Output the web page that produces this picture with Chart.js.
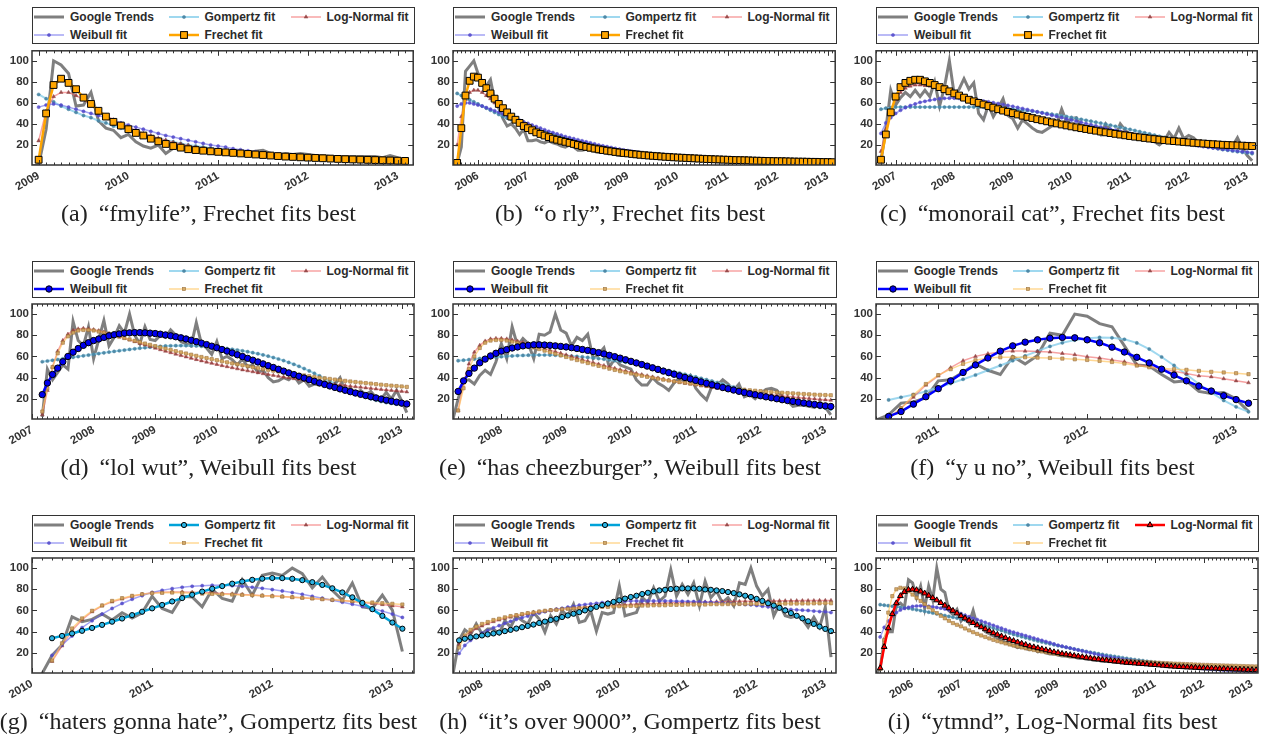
<!DOCTYPE html>
<html>
<head>
<meta charset="utf-8">
<script src="https://cdn.jsdelivr.net/npm/chart.js@4.4.1/dist/chart.umd.min.js"></script>
<style>
html, body { margin: 0; padding: 0; background: #fff; }
#page { position: relative; width: 1262px; height: 736px; overflow: hidden; }
#page canvas { position: absolute; }
.legend { position: absolute; border: 1.5px solid #333; box-sizing: border-box; background: #fff;
  font: bold 12px "Liberation Sans", Arial, sans-serif; color: #2b2b2b; }
.legend .item { position: absolute; height: 14px; display: flex; align-items: center; white-space: nowrap; }
.legend svg { display: block; margin-right: 6px; }
.caption { position: absolute; font-family: "Liberation Serif", "Times New Roman", serif; font-size: 24px;
  line-height: 28px; color: #222; white-space: nowrap; transform: translateX(-50%); }
.caption span + span { margin-left: 5px; }
</style>
</head>
<body>
<div id="page"></div>
<script>
// y axis ticks shared by all panels
const yTicks = [20, 40, 60, 80, 100];

// (a) fmylife
const aYears = [2009, 2010, 2011, 2012, 2013];
const aTrends = [0, 1, 35, 100, 96, 88, 57, 58, 70, 43, 36, 34, 27, 30, 23, 19, 17, 20, 12, 17, 19, 18, 16, 17, 15, 14, 13, 14, 14, 13, 14, 15, 12, 10, 12, 11, 12, 11, 10, 10, 9, 9, 9, 9, 9, 9, 9, 8, 10, 8, 5];
const aGompertz = [68, 64, 61, 57, 54, 51, 48, 46, 43, 41, 38, 36, 34, 32, 30, 28, 26, 24.5, 23, 21.5, 20, 19, 18, 17, 16, 15, 14, 13, 12, 11, 10.5, 10, 9, 8.5, 8, 7.5, 7, 6.5, 6, 5.7, 5.3, 5, 4.7, 4.4, 4.1, 3.9, 3.7, 3.5, 3.3, 3.1];
const aLogNormal = [24, 52, 66, 70, 70, 67, 63, 58, 53, 48, 44, 40, 37, 34, 31, 29, 26.5, 24.5, 22.5, 21, 19.5, 18, 17, 16, 15, 14, 13, 12.3, 11.6, 11, 10.3, 9.8, 9.3, 8.8, 8.3, 7.9, 7.5, 7.1, 6.8, 6.4, 6.1, 5.8, 5.5, 5.3, 5, 4.8, 4.6, 4.4, 4.2, 4];
const aWeibull = [56, 58, 59, 58, 56, 54, 52, 50, 48, 46, 43, 41, 39, 37, 35, 33, 31, 29, 27.5, 26, 24.5, 23, 21.5, 20, 19, 18, 16.5, 15.5, 14.5, 13.5, 12.5, 11.7, 10.8, 10, 9.3, 8.6, 8, 7.4, 6.8, 6.3, 5.8, 5.3, 4.9, 4.5, 4.1, 3.8, 3.5, 3.2, 2.9, 2.7];
const aFrechet = [6, 50, 77, 83, 79, 73, 65, 59, 52.5, 47, 42, 38.5, 35, 31.5, 29, 26, 23.5, 21, 19, 17.5, 16, 15.2, 14.6, 14, 13.5, 13, 12.5, 12, 11.5, 11, 10.5, 10, 9.5, 9, 8.7, 8.3, 8, 7.7, 7.4, 7.1, 6.8, 6.5, 6.3, 6.1, 5.9, 5.7, 5.5, 5.3, 5.1, 4.9];

// (b) o rly
const bYears = [2006, 2007, 2008, 2009, 2010, 2011, 2012, 2013];
const bTrends = [0, 3, 18, 90, 95, 100, 88, 80, 76, 82, 62, 55, 45, 38, 40, 36, 30, 35, 24, 24, 25, 23, 22, 24, 22, 21, 19, 18, 20, 18, 15, 15, 16, 15, 14, 13, 13, 12, 12, 11, 10, 11, 12, 10, 9, 10, 9, 9, 9, 10, 8, 10, 9, 8, 9, 8, 8, 9, 8, 7, 8, 7, 6, 7, 6, 7, 6, 6, 5, 6, 5, 5, 6, 5, 5, 5, 5, 4, 5, 6, 5, 4, 4, 4, 4, 4, 4, 4, 3, 4, 3, 3];
const bGompertz = [69, 67, 65, 63, 61, 59, 57, 55, 53, 51, 49, 47, 45.5, 44, 42.5, 41, 39.5, 38, 36.5, 35, 33.5, 32.5, 31, 30, 29, 27.5, 26.5, 25.5, 24.5, 23.5, 22.5, 21.5, 20.5, 19.5, 18.8, 18, 17, 16.3, 15.5, 15, 14.2, 13.5, 13, 12.3, 11.8, 11.2, 10.7, 10.2, 9.7, 9.3, 8.8, 8.4, 8, 7.6, 7.2, 6.9, 6.6, 6.3, 6, 5.7, 5.4, 5.2, 4.9, 4.7, 4.5, 4.3, 4.1, 3.9, 3.7, 3.5, 3.4, 3.2, 3.1, 2.9, 2.8, 2.7, 2.6, 2.5, 2.4, 2.3, 2.2, 2.1, 2, 1.9, 1.8, 1.8, 1.7, 1.6, 1.6, 1.5, 1.5];
const bLogNormal = [20, 47, 63, 70, 72, 72, 70, 67, 64, 60, 57, 53, 50, 47, 44, 41.5, 39, 37, 35, 33, 31, 29.5, 28, 26.5, 25, 24, 23, 22, 21, 20, 19, 18.2, 17.4, 16.6, 15.9, 15.2, 14.5, 13.9, 13.3, 12.7, 12.2, 11.7, 11.2, 10.7, 10.3, 9.9, 9.5, 9.1, 8.8, 8.4, 8.1, 7.8, 7.5, 7.2, 7, 6.7, 6.5, 6.3, 6.1, 5.9, 5.7, 5.5, 5.3, 5.1, 5, 4.8, 4.7, 4.5, 4.4, 4.2, 4.1, 4, 3.9, 3.8, 3.7, 3.6, 3.5, 3.4, 3.3, 3.2, 3.1, 3, 3, 2.9, 2.8, 2.8, 2.7, 2.6, 2.6, 2.5, 2.5];
const bWeibull = [57, 59, 60, 60, 59, 58, 57, 55.5, 54, 52.5, 51, 49.5, 48, 46.5, 45, 43.5, 42, 40.5, 39, 37.5, 36, 34.5, 33, 31.8, 30.5, 29.3, 28, 27, 26, 25, 24, 23, 22, 21, 20, 19.2, 18.4, 17.6, 16.8, 16, 15.3, 14.6, 14, 13.3, 12.7, 12.1, 11.5, 11, 10.5, 10, 9.5, 9, 8.6, 8.2, 7.8, 7.4, 7, 6.7, 6.3, 6, 5.7, 5.4, 5.1, 4.9, 4.6, 4.4, 4.2, 4, 3.8, 3.6, 3.4, 3.2, 3.1, 2.9, 2.8, 2.6, 2.5, 2.4, 2.3, 2.2, 2.1, 2, 1.9, 1.8, 1.7, 1.6, 1.6, 1.5, 1.4, 1.4, 1.3];
const bFrechet = [3, 36, 67, 81, 85, 84, 79, 74, 69, 64, 59, 55, 51, 47, 44, 41, 38, 36, 34, 32, 30.5, 29, 27.5, 26, 25, 24, 23, 22, 21, 20, 19, 18.2, 17.4, 16.6, 15.9, 15.2, 14.6, 14, 13.4, 12.9, 12.4, 12, 11.5, 11.1, 10.7, 10.3, 10, 9.7, 9.4, 9.1, 8.8, 8.6, 8.3, 8.1, 7.9, 7.7, 7.5, 7.3, 7.1, 6.9, 6.7, 6.6, 6.4, 6.3, 6.1, 6, 5.8, 5.7, 5.6, 5.5, 5.4, 5.2, 5.1, 5, 4.9, 4.8, 4.7, 4.6, 4.6, 4.5, 4.4, 4.3, 4.2, 4.2, 4.1, 4, 4, 3.9, 3.8, 3.8, 3.7];

// (c) monorail cat
const cYears = [2007, 2008, 2009, 2010, 2011, 2012, 2013];
const cTrends = [5, 35, 72, 58, 65, 70, 66, 72, 66, 72, 66, 80, 57, 75, 100, 68, 73, 83, 73, 79, 50, 44, 58, 47, 55, 64, 48, 45, 36, 44, 40, 36, 33, 32, 35, 38, 40, 54, 42, 45, 46, 38, 36, 33, 35, 30, 40, 34, 30, 40, 34, 30, 30, 29, 27, 25, 23, 20, 24, 32, 26, 36, 26, 29, 27, 22, 20, 19, 18, 17, 16, 17, 19, 27, 17, 10, 5];
const cGompertz = [54, 55, 55.5, 56, 56, 56, 56, 56, 56, 56, 56, 56, 56, 56, 56, 56, 56, 56, 56, 56, 56, 56, 55.8, 55.6, 55.3, 55, 54.6, 54.2, 53.7, 53.2, 52.6, 52, 51.4, 50.7, 50, 49.3, 48.6, 47.8, 47, 46.2, 45.3, 44.4, 43.5, 42.6, 41.7, 40.8, 39.8, 38.8, 37.8, 36.8, 35.8, 34.8, 33.8, 32.7, 31.6, 30.5, 29.4, 28.3, 27.2, 26.1, 25, 24, 23, 22, 21, 20, 19.1, 18.2, 17.3, 16.5, 15.7, 15, 14.3, 13.6, 13, 12.4, 11.8];
const cLogNormal = [14, 35, 52, 63, 70, 74, 76, 77, 77, 76.5, 76, 75, 73.5, 72, 70.5, 69, 67.3, 65.6, 63.9, 62.3, 60.7, 59.1, 57.6, 56.1, 54.6, 53.2, 51.9, 50.6, 49.3, 48.1, 46.9, 45.8, 44.7, 43.6, 42.6, 41.6, 40.6, 39.6, 38.7, 37.8, 36.9, 36, 35.2, 34.4, 33.6, 32.8, 32, 31.3, 30.6, 29.9, 29.2, 28.5, 27.9, 27.3, 26.7, 26.1, 25.5, 25, 24.5, 24, 23.5, 23, 22.5, 22.1, 21.7, 21.3, 20.9, 20.5, 20.1, 19.7, 19.3, 19, 18.7, 18.4, 18.1, 17.8, 17.5];
const cWeibull = [31, 41, 46, 50, 53, 55.5, 57.5, 59, 60.5, 61.5, 62.5, 63.3, 64, 64.3, 64.5, 64.5, 64.3, 64, 63.6, 63, 62.4, 61.7, 61, 60.2, 59.4, 58.5, 57.6, 56.7, 55.7, 54.7, 53.7, 52.6, 51.5, 50.4, 49.3, 48.2, 47.1, 46, 44.8, 43.7, 42.6, 41.5, 40.4, 39.3, 38.2, 37.1, 36, 35, 34, 33, 32, 31, 30, 29, 28, 27.1, 26.2, 25.3, 24.5, 23.7, 22.9, 22.1, 21.3, 20.6, 19.9, 19.2, 18.5, 17.8, 17.2, 16.6, 16, 15.4, 14.8, 14.3, 13.8, 13.3, 12.8];
const cFrechet = [6, 30, 51, 66, 75, 79, 81, 82, 82, 80.5, 79, 77, 75, 73, 71, 69, 67, 65, 63, 61.5, 60, 58.5, 57, 55.5, 54, 52.7, 51.5, 50.3, 49, 47.8, 46.7, 45.6, 44.5, 43.5, 42.5, 41.5, 40.5, 39.5, 38.6, 37.7, 36.8, 36, 35.2, 34.4, 33.6, 32.8, 32, 31.3, 30.6, 29.9, 29.2, 28.5, 27.9, 27.3, 26.7, 26.1, 25.6, 25.1, 24.6, 24.1, 23.7, 23.3, 22.9, 22.5, 22.1, 21.7, 21.4, 21.1, 20.8, 20.5, 20.2, 20, 19.8, 19.6, 19.4, 19.2, 19];

// (d) lol wut
const dYears = [2007, 2008, 2009, 2010, 2011, 2012, 2013];
const dTrends = [3, 48, 38, 45, 52, 48, 93, 75, 70, 88, 58, 76, 94, 70, 78, 89, 82, 100, 80, 72, 88, 76, 75, 80, 78, 85, 80, 74, 72, 70, 92, 72, 68, 62, 74, 58, 60, 57, 52, 58, 50, 52, 45, 47, 40, 36, 37, 40, 38, 42, 35, 38, 32, 34, 33, 37, 33, 34, 40, 27, 30, 25, 28, 24, 27, 21, 20, 26, 20, 28, 18, 7];
const dGompertz = [55, 55.7, 56.4, 57.1, 57.8, 58.5, 59.2, 59.9, 60.6, 61.3, 62, 62.7, 63.4, 64.1, 64.8, 65.4, 66, 66.6, 67.2, 67.8, 68.3, 68.8, 69.2, 69.6, 69.9, 70.1, 70.2, 70.3, 70.2, 70.1, 69.9, 69.6, 69.3, 68.9, 68.5, 68, 67.4, 66.8, 66.1, 65.3, 64.5, 63.6, 62.6, 61.5, 60.3, 59, 57.6, 56.1, 54.4, 52.6, 50.7, 48.6, 46.4, 44.1, 41.7, 39.3, 36.8, 34.4, 32, 29.7, 27.5, 25.4, 23.5, 21.7, 20.1, 18.7, 17.5, 16.5, 15.7, 15, 14.4, 13.9];
const dLogNormal = [5, 28, 50, 65, 75, 81, 84.5, 86, 86.5, 86, 85.3, 84.3, 83, 81.7, 80.2, 78.7, 77.2, 75.6, 74, 72.4, 70.9, 69.4, 67.9, 66.4, 65, 63.6, 62.2, 60.9, 59.6, 58.3, 57.1, 55.9, 54.7, 53.6, 52.5, 51.4, 50.4, 49.4, 48.4, 47.4, 46.5, 45.6, 44.7, 43.8, 43, 42.2, 41.4, 40.6, 39.8, 39.1, 38.4, 37.7, 37, 36.3, 35.7, 35, 34.4, 33.8, 33.2, 32.6, 32, 31.5, 31, 30.4, 29.9, 29.4, 28.9, 28.4, 28, 27.5, 27.1, 26.6];
const dWeibull = [24, 35, 43, 49, 55, 60, 64, 67.5, 70.5, 73, 75, 76.5, 78, 79.5, 80.5, 81.3, 82, 82.3, 82.5, 82.5, 82.3, 82, 81.6, 81, 80.3, 79.5, 78.6, 77.6, 76.5, 75.3, 74, 72.6, 71.2, 69.7, 68.2, 66.6, 65, 63.3, 61.6, 59.9, 58.2, 56.5, 54.8, 53, 51.3, 49.6, 47.9, 46.2, 44.5, 42.9, 41.3, 39.7, 38.1, 36.6, 35.1, 33.6, 32.2, 30.8, 29.4, 28.1, 26.8, 25.5, 24.3, 23.1, 22, 20.9, 19.8, 18.8, 17.8, 16.9, 16, 15.2];
const dFrechet = [8, 30, 50, 63, 73, 79, 82.5, 84.5, 85, 85, 84.5, 83.5, 82.5, 81.2, 80, 78.7, 77.4, 76.1, 74.8, 73.5, 72.2, 71, 69.8, 68.6, 67.4, 66.2, 65, 63.9, 62.8, 61.7, 60.6, 59.5, 58.5, 57.5, 56.5, 55.5, 54.5, 53.5, 52.6, 51.7, 50.8, 49.9, 49, 48.2, 47.4, 46.6, 45.8, 45, 44.2, 43.5, 42.8, 42.1, 41.4, 40.7, 40, 39.4, 38.8, 38.2, 37.6, 37, 36.4, 35.9, 35.4, 34.9, 34.4, 33.9, 33.4, 32.9, 32.5, 32.1, 31.7, 31.3];

// (e) has cheezburger
const eYears = [2008, 2009, 2010, 2011, 2012, 2013];
const eTrends = [0, 20, 37, 38, 34, 42, 47, 43, 55, 72, 58, 88, 70, 77, 72, 58, 81, 80, 83, 100, 85, 82, 70, 78, 75, 81, 58, 62, 68, 50, 58, 52, 50, 48, 38, 33, 33, 40, 35, 32, 28, 35, 40, 36, 42, 30, 24, 19, 32, 33, 38, 34, 28, 34, 22, 24, 20, 25, 29, 30, 28, 22, 18, 13, 14, 14, 13, 12, 17, 12, 5];
const eGompertz = [56, 56.5, 57, 57.5, 58, 58.5, 59, 59.4, 59.8, 60.2, 60.5, 60.8, 61, 61.2, 61.3, 61.4, 61.4, 61.3, 61.2, 61, 60.7, 60.4, 60, 59.6, 59.1, 58.6, 58, 57.4, 56.7, 56, 55.3, 54.5, 53.7, 52.8, 51.9, 50.9, 49.9, 48.9, 47.8, 46.7, 45.6, 44.4, 43.2, 42, 40.7, 39.4, 38.1, 36.8, 35.4, 34, 32.6, 31.2, 29.8, 28.4, 27, 25.6, 24.3, 23, 21.7, 20.4, 19.2, 18, 16.9, 15.8, 14.8, 13.8, 12.9, 12, 11.2, 10.4];
const eLogNormal = [9, 35, 53, 64, 70.5, 74.5, 76.5, 77, 77, 76.5, 75.5, 74.5, 73.2, 71.8, 70.4, 69, 67.5, 66, 64.5, 63, 61.5, 60, 58.5, 57, 55.6, 54.2, 52.8, 51.4, 50.1, 48.8, 47.5, 46.3, 45.1, 43.9, 42.8, 41.7, 40.6, 39.6, 38.6, 37.6, 36.7, 35.8, 34.9, 34, 33.2, 32.4, 31.6, 30.8, 30.1, 29.4, 28.7, 28, 27.3, 26.7, 26.1, 25.5, 24.9, 24.3, 23.8, 23.2, 22.7, 22.2, 21.7, 21.2, 20.8, 20.3, 19.9, 19.5, 19.1, 18.7];
const eWeibull = [27, 37, 44, 49, 54, 57.5, 60.5, 63, 65, 66.5, 68, 69, 70, 70.5, 71, 71, 70.8, 70.5, 70, 69.5, 69, 68.3, 67.5, 66.6, 65.7, 64.7, 63.6, 62.4, 61.1, 59.8, 58.4, 56.9, 55.4, 53.9, 52.4, 50.9, 49.3, 47.8, 46.2, 44.7, 43.2, 41.7, 40.2, 38.8, 37.4, 36, 34.6, 33.3, 32, 30.7, 29.5, 28.3, 27.1, 26, 24.9, 23.9, 22.9, 21.9, 21, 20.1, 19.2, 18.4, 17.6, 16.8, 16.1, 15.4, 14.7, 14, 13.4, 12.8];
const eFrechet = [9, 30, 48, 60, 68, 73, 75, 75.5, 75.5, 75, 74, 72.8, 71.5, 70, 68.5, 67, 65.5, 64, 62.5, 61, 59.5, 58, 56.6, 55.2, 53.8, 52.4, 51.1, 49.8, 48.5, 47.3, 46.1, 45, 43.9, 42.8, 41.8, 40.8, 39.9, 39, 38.1, 37.3, 36.5, 35.8, 35.1, 34.4, 33.7, 33, 32.4, 31.8, 31.2, 30.6, 30.1, 29.6, 29.1, 28.6, 28.1, 27.7, 27.3, 26.9, 26.5, 26.1, 25.8, 25.5, 25.2, 24.9, 24.6, 24.3, 24, 23.8, 23.6, 23.4];

// (f) y u no
const fYears = [2011, 2012, 2013];
const fTrends = [0, 5, 16, 17, 21, 37, 38, 45, 53, 47, 43, 60, 53, 61, 82, 80, 100, 98, 91, 88, 70, 52, 51, 43, 36, 37, 27, 25, 26, 20, 8];
const fGompertz = [19, 21.5, 24, 27, 31, 34.5, 38.5, 42.5, 47, 51.5, 56, 60.5, 65, 69.5, 72.9, 75.4, 77.3, 78, 77.6, 76.2, 72.8, 67, 59.5, 51.5, 43, 34, 26, 18.5, 12.5, 7.8];
const fLogNormal = [1.2, 11.2, 21.5, 33, 41.7, 49.5, 56, 60.1, 62.6, 64.2, 65.1, 65.1, 64.8, 64.2, 62.9, 61.7, 59.8, 58.6, 56.7, 55, 52.3, 50.5, 48, 46, 44, 41.7, 40.8, 39, 37, 35.2];
const fWeibull = [3.4, 8, 15, 22, 29.6, 37, 44.9, 52, 58.6, 65, 70, 73.5, 75.7, 77.3, 78, 77.6, 75.7, 72.9, 68.8, 64.2, 59.2, 53.9, 48, 42.4, 37, 32, 27.4, 23, 19.3, 15.9];
const fFrechet = [2, 11, 23.7, 34, 42.4, 48, 53, 56.4, 58.6, 59.2, 59.2, 59.2, 58.9, 58.6, 58, 57.3, 56.7, 55.8, 54.8, 53.3, 51.4, 49.8, 48.9, 48, 47.4, 46.4, 45.5, 44.9, 44.2, 43.3];

// (g) haters gonna hate
const gYears = [2010, 2011, 2012, 2013];
const gTrends = [0.3, 17.5, 27.5, 54, 49.4, 51.6, 56.6, 51, 57.8, 52.8, 57.8, 73.4, 61.9, 58.1, 73.4, 72.8, 63.4, 80, 71.3, 68.8, 89.1, 74.4, 93.1, 95.3, 93.1, 100, 94.7, 81.3, 91.6, 79, 69.7, 85.9, 63.4, 61.9, 74.4, 60.3, 21.3];
const gGompertz = [33.8, 36, 38.3, 40.8, 43.5, 46.4, 49.4, 52.4, 55.6, 58.8, 62, 65.2, 68.5, 71.7, 74.8, 77.8, 80.5, 83, 85.3, 87.3, 88.9, 90, 90.6, 90.5, 89.9, 88.6, 86.7, 84.1, 80.9, 77, 72.4, 67.1, 61.2, 54.9, 48.6, 42.8];
const gLogNormal = [12, 26.6, 41, 51.3, 58.8, 64.4, 68.1, 70.9, 73.4, 75.3, 76.6, 77.2, 77.5, 77.5, 77.2, 76.9, 76.6, 75.9, 75.6, 75, 74.7, 74, 73.8, 73.1, 72.5, 71.9, 71.3, 70.6, 70, 69.4, 68.4, 67.5, 66.6, 65.6, 64.4, 63.4];
const gWeibull = [17.5, 27.5, 36, 43.8, 50.3, 56.6, 61.9, 66.6, 70.6, 74, 76.9, 79, 80.6, 81.9, 82.8, 83.4, 83.8, 83.8, 83.4, 82.8, 81.9, 80.9, 79.7, 78.4, 76.9, 75.3, 73.4, 71.6, 69.7, 67.8, 65.9, 64, 61.9, 59.4, 56.6, 53.4];
const gFrechet = [12.8, 29, 43, 52.5, 59.7, 64.7, 69, 71.6, 73.8, 75.3, 76.3, 76.6, 76.9, 76.6, 76.3, 75.9, 75.6, 75.3, 75, 74.7, 74.4, 74, 73.4, 73.1, 72.5, 71.9, 71.3, 70.6, 70, 69.4, 68.8, 68.1, 67.5, 66.9, 66.3, 65.6];

// (h) it's over 9000
const hYears = [2008, 2009, 2010, 2011, 2012, 2013];
const hTrends = [2, 32, 41.7, 37.4, 47.3, 38, 42.6, 42.6, 38, 50.4, 44.2, 55, 50.4, 47.3, 58.1, 51.9, 39.5, 55, 47.3, 59.7, 55, 65.9, 48.8, 50.4, 59.7, 40.5, 58.1, 56.6, 58.1, 83, 55, 56.6, 58.1, 72.1, 67.4, 81.4, 68.9, 73.6, 98.4, 73.6, 84.5, 75.2, 86, 64.3, 87.6, 72.1, 78.3, 67.4, 72.1, 64.3, 86, 84.5, 100, 83, 73.6, 79.8, 55, 65.9, 55, 53.5, 55, 51.9, 44.2, 53.5, 44.2, 63, 16];
const hGompertz = [31.8, 33.3, 34.6, 35.5, 36.4, 37.4, 38.3, 39.2, 40.5, 41.7, 42.9, 44.2, 45.4, 46.7, 48.2, 49.5, 51, 52.2, 53.8, 55.3, 56.9, 58.4, 60, 61.6, 63.4, 65, 66.5, 68.1, 69.6, 71.2, 72.7, 73.9, 75.5, 76.7, 78, 78.9, 79.5, 80.2, 80.5, 80.8, 80.8, 80.8, 80.5, 79.8, 79.5, 78.9, 78.3, 77.4, 76.4, 75.2, 73.9, 72.7, 70.9, 69, 66.8, 64.7, 62.5, 60, 57.5, 55, 52.6, 49.8, 47.3, 44.8, 42.6, 40.5];
const hLogNormal = [28, 35, 39.5, 42.9, 45.4, 47.6, 49.5, 51, 52.6, 53.8, 55, 56, 57, 57.9, 58.7, 59.4, 60.1, 60.7, 61.3, 61.8, 62.3, 62.8, 63.2, 63.6, 64, 64.3, 64.6, 64.9, 65.2, 65.5, 65.7, 66, 66.2, 66.4, 66.6, 66.8, 67, 67.2, 67.3, 67.5, 67.6, 67.8, 67.9, 68, 68.1, 68.2, 68.3, 68.4, 68.5, 68.6, 68.7, 68.8, 68.8, 68.9, 69, 69, 69.1, 69.1, 69.2, 69.2, 69.3, 69.3, 69.3, 69.4, 69.4, 69.4];
const hWeibull = [19.4, 27, 31.8, 35.5, 38.6, 41, 43.6, 45.7, 47.9, 49.8, 51.6, 53.2, 54.7, 56.3, 57.5, 58.8, 60, 61.2, 62.1, 63.1, 64, 65, 65.6, 66.2, 66.8, 67.4, 67.8, 68.1, 68.4, 68.7, 69, 69, 69, 69, 69, 69, 69, 69, 68.7, 68.7, 68.4, 68.4, 68.1, 67.8, 67.8, 67.4, 67.1, 66.8, 66.5, 66.2, 65.6, 65.3, 64.7, 64, 63.4, 62.8, 62.1, 61.5, 60.9, 60.6, 60.3, 60, 59.4, 59, 58.8, 58.1];
const hFrechet = [25, 36.4, 41.7, 44.8, 47.3, 49.1, 51, 52.2, 53.5, 54.7, 55.6, 56.6, 57.5, 58.1, 59, 59.7, 60.3, 60.6, 61.2, 61.6, 61.9, 62.2, 62.5, 62.8, 63.1, 63.4, 63.4, 63.7, 64, 64, 64.3, 64.3, 64.6, 64.6, 64.9, 64.9, 64.9, 65.3, 65.3, 65.3, 65.6, 65.6, 65.6, 65.6, 65.9, 65.9, 65.9, 66, 66, 66.1, 66.1, 66.2, 66.2, 66.3, 66.3, 66.4, 66.4, 66.5, 66.5, 66.5, 66.6, 66.6, 66.7, 66.7, 66.8, 66.8];

// (i) ytmnd
const iYears = [2006, 2007, 2008, 2009, 2010, 2011, 2012, 2013];
const iTrends = [1, 5, 33, 40, 40, 65, 67, 63, 89, 86, 72, 83, 62, 83, 70, 100, 80, 77, 60, 56, 61, 50, 55, 48, 60, 46, 48, 40, 38, 36, 34, 32, 30, 28, 27, 25, 26, 24, 23, 24, 21, 22, 20, 19, 19, 18, 17, 17, 16, 16, 15, 15, 14, 14, 13, 13, 12, 12, 12, 11, 11, 11, 10, 10, 10, 9, 9, 9, 8, 8, 8, 8, 7, 7, 7, 7, 6, 6, 6, 6, 5, 5, 5, 5, 5, 4, 4, 4, 4, 4, 4, 3, 3, 3, 3];
const iGompertz = [65.5, 65, 64.5, 64, 63.5, 63, 62.5, 62, 61.3, 60.6, 59.9, 59.2, 58.4, 57.6, 56.8, 56, 55.2, 54.4, 53.6, 52.8, 52, 51.1, 50.1, 49.1, 48, 46.9, 45.8, 44.6, 43.4, 42.2, 41, 39.8, 38.6, 37.4, 36.3, 35.2, 34.2, 33.2, 32.2, 31.2, 30.3, 29.4, 28.5, 27.6, 26.8, 26, 25.2, 24.4, 23.6, 22.8, 22.1, 21.3, 20.6, 19.9, 19.2, 18.5, 17.8, 17.2, 16.6, 16, 15.4, 14.8, 14.2, 13.6, 13.1, 12.6, 12.1, 11.6, 11.1, 10.6, 10.2, 9.8, 9.4, 9, 8.6, 8.2, 7.8, 7.5, 7.1, 6.8, 6.5, 6.2, 5.9, 5.6, 5.3, 5.1, 4.8, 4.6, 4.4, 4.2, 4, 3.8, 3.6, 3.4];
const iLogNormal = [5.6, 25.7, 43.3, 56.7, 66.9, 73.7, 77.7, 79.6, 79.9, 79.3, 78, 76.2, 74, 71.8, 69.7, 67.2, 64.7, 62.2, 59.8, 57.3, 54.8, 52.6, 50.5, 48.3, 46.1, 44.3, 42.4, 40.6, 38.7, 37.2, 35.6, 34.1, 32.5, 31.3, 30, 28.8, 27.6, 26.3, 25.4, 24.5, 23.5, 22.6, 21.7, 20.7, 20.1, 19.2, 18.6, 18, 17.3, 16.7, 16.1, 15.5, 14.9, 14.2, 13.9, 13.3, 13, 12.4, 12.1, 11.8, 11.1, 10.8, 10.5, 10.2, 9.9, 9.6, 9.3, 9, 8.7, 8.4, 8, 7.7, 7.4, 7.1, 6.8, 6.7, 6.5, 6.3, 6.1, 5.9, 5.7, 5.6, 5.4, 5.3, 5.1, 5, 4.8, 4.7, 4.5, 4.4, 4.3, 4.1, 4, 3.8];
const iWeibull = [35, 44, 50, 55, 58, 60.5, 62, 63, 63.8, 64.2, 64.4, 64.3, 64, 63.5, 62.9, 62.2, 61.4, 60.5, 59.6, 58.3, 57, 55.4, 54.1, 52.7, 51.4, 50, 48.7, 47.3, 46, 44.6, 43.3, 41.9, 40.6, 39.5, 38.4, 37.3, 36.2, 35.1, 34, 32.9, 31.8, 30.7, 29.6, 28.4, 27.2, 26.3, 25.4, 24.5, 23.6, 22.7, 21.8, 20.9, 20, 19.1, 18.2, 17.3, 16.4, 15.8, 15.2, 14.6, 14, 13.4, 12.9, 12.3, 11.7, 11.2, 10.7, 10.1, 9.6, 9.2, 8.8, 8.4, 8, 7.6, 7.2, 6.8, 6.5, 6.1, 5.8, 5.4, 5.1, 4.8, 4.5, 4.2, 4, 3.7, 3.5, 3.3, 3.1, 2.9, 2.7, 2.5, 2.3, 2.2];
const iFrechet = [5, 32, 58, 73.5, 80, 81.4, 80.8, 78.3, 75, 72, 69, 66, 63, 60.2, 57.5, 55, 52.6, 50.3, 48.1, 46.5, 45, 43, 41.2, 39.5, 37.9, 36.4, 35, 33.6, 32.3, 31.1, 30, 28.9, 27.9, 26.9, 26, 25.1, 24.3, 23.5, 22.7, 22, 21.3, 20.6, 20, 19.4, 18.8, 18.3, 17.8, 17.3, 16.8, 16.4, 16, 15.6, 15.2, 14.8, 14.5, 14.1, 13.8, 13.5, 13.2, 12.9, 12.6, 12.4, 12.1, 11.9, 11.6, 11.4, 11.2, 11, 10.8, 10.6, 10.4, 10.2, 10, 9.8, 9.7, 9.5, 9.3, 9.2, 9, 8.9, 8.7, 8.6, 8.5, 8.3, 8.2, 8.1, 8, 7.9, 7.8, 7.6, 7.5, 7.4, 7.3, 7.2];

const panels = [
    { tag: '(a)', title: '“fmylife”, Frechet fits best', best: 'frechet', from: [2009, 1], trendFrom: [2008, 12], xRange: [2008.926, 2013.174], years: aYears,
      trends: aTrends, gompertz: aGompertz, lognormal: aLogNormal, weibull: aWeibull, frechet: aFrechet },
    { tag: '(b)', title: '“o rly”, Frechet fits best', best: 'frechet', from: [2005, 8], trendFrom: [2005, 7], xRange: [2005.5, 2013.15], years: bYears,
      trends: bTrends, gompertz: bGompertz, lognormal: bLogNormal, weibull: bWeibull, frechet: bFrechet },
    { tag: '(c)', title: '“monorail cat”, Frechet fits best', best: 'frechet', from: [2006, 10], trendFrom: [2006, 10], xRange: [2006.665, 2013.17], years: cYears,
      trends: cTrends, gompertz: cGompertz, lognormal: cLogNormal, weibull: cWeibull, frechet: cFrechet },
    { tag: '(d)', title: '“lol wut”, Weibull fits best', best: 'weibull', from: [2007, 3], trendFrom: [2007, 3], xRange: [2007.0, 2013.2], years: dYears,
      trends: dTrends, gompertz: dGompertz, lognormal: dLogNormal, weibull: dWeibull, frechet: dFrechet },
    { tag: '(e)', title: '“has cheezburger”, Weibull fits best', best: 'weibull', from: [2007, 5], trendFrom: [2007, 4], xRange: [2007.254, 2013.164], years: eYears,
      trends: eTrends, gompertz: eGompertz, lognormal: eLogNormal, weibull: eWeibull, frechet: eFrechet },
    { tag: '(f)', title: '“y u no”, Weibull fits best', best: 'weibull', from: [2010, 9], trendFrom: [2010, 8], xRange: [2010.582, 2013.147], years: fYears,
      trends: fTrends, gompertz: fGompertz, lognormal: fLogNormal, weibull: fWeibull, frechet: fFrechet },
    { tag: '(g)', title: '“haters gonna hate”, Gompertz fits best', best: 'gompertz', from: [2010, 3], trendFrom: [2010, 2], xRange: [2010.0, 2013.18], years: gYears,
      trends: gTrends, gompertz: gGompertz, lognormal: gLogNormal, weibull: gWeibull, frechet: gFrechet },
    { tag: '(h)', title: '“it’s over 9000”, Gompertz fits best', best: 'gompertz', from: [2007, 9], trendFrom: [2007, 8], xRange: [2007.578, 2013.156], years: hYears,
      trends: hTrends, gompertz: hGompertz, lognormal: hLogNormal, weibull: hWeibull, frechet: hFrechet },
    { tag: '(i)', title: '“ytmnd”, Log-Normal fits best', best: 'lognormal', from: [2005, 5], trendFrom: [2005, 4], xRange: [2005.247, 2013.123], years: iYears,
      trends: iTrends, gompertz: iGompertz, lognormal: iLogNormal, weibull: iWeibull, frechet: iFrechet }
];

// 线型：普通拟合 / 最佳拟合
const trendStyle = { line: 'rgba(105,105,105,0.85)', width: 3 };
const fitStyles = {
    gompertz:  { line: 'rgba(135,206,235,0.8)', width: 2, marker: 'circle', r: 1.6, fill: 'rgba(70,130,160,0.9)', border: 'rgba(70,130,160,0.9)', bw: 0.5 },
    lognormal: { line: 'rgba(240,100,100,0.6)', width: 1.5, marker: 'triangle', r: 2.2, fill: 'rgba(140,60,60,0.85)', border: 'rgba(140,60,60,0.85)', bw: 0.5 },
    weibull:   { line: 'rgba(100,100,235,0.6)', width: 1.5, marker: 'circle', r: 1.6, fill: 'rgba(80,70,200,0.85)', border: 'rgba(80,70,200,0.85)', bw: 0.5 },
    frechet:   { line: 'rgba(255,195,90,0.65)', width: 1.5, marker: 'rect', r: 2.3, fill: 'rgba(205,160,90,0.85)', border: 'rgba(150,105,50,0.9)', bw: 0.6 }
};
const bestStyles = {
    gompertz:  { line: '#00a2d8', width: 2.5, marker: 'circle', r: 2.6, fill: '#2bb3e3', border: '#000', bw: 1 },
    lognormal: { line: '#ff0000', width: 2.5, marker: 'triangle', r: 3.3, fill: '#ff0000', border: '#000', bw: 1 },
    weibull:   { line: '#0000ff', width: 2.5, marker: 'circle', r: 3.2, fill: '#0000ee', border: '#000', bw: 1 },
    frechet:   { line: '#ffa500', width: 2.5, marker: 'rect', r: 4.8, fill: '#ffa500', border: '#000', bw: 1 }
};
const fitOrder = { frechet: 1, weibull: 2, lognormal: 3, gompertz: 4 };

const legendItems = [
    { key: 'trends', text: 'Google Trends', left: 1, top: 1.5 },
    { key: 'gompertz', text: 'Gompertz fit', left: 135.5, top: 1.5 },
    { key: 'lognormal', text: 'Log-Normal fit', left: 257.5, top: 1.5 },
    { key: 'weibull', text: 'Weibull fit', left: 1, top: 19.5 },
    { key: 'frechet', text: 'Frechet fit', left: 135.5, top: 19.5 }
];

const colLeft = [32, 453, 876];
const colWidth = [383, 384, 383];
const rowTop = [48, 302, 556];
const plotHeight = 117;
const captionTop = [199, 453, 707];
const font = { family: '"Liberation Sans", Arial, sans-serif', size: 11.5, weight: 'bold' };

function styleFor(key, best) {
    if (key === 'trends') return trendStyle;
    return key === best ? bestStyles[key] : fitStyles[key];
}

function sampleSvg(st) {
    let m = '';
    const cx = 15, cy = 6;
    if (st.marker === 'circle') {
        m = `<circle cx="${cx}" cy="${cy}" r="${st.r}" fill="${st.fill}" stroke="${st.border}" stroke-width="${st.bw}"/>`;
    } else if (st.marker === 'rect') {
        const s = st.r * Math.SQRT1_2;
        m = `<rect x="${cx - s}" y="${cy - s}" width="${2 * s}" height="${2 * s}" fill="${st.fill}" stroke="${st.border}" stroke-width="${st.bw}"/>`;
    } else if (st.marker === 'triangle') {
        const r = st.r;
        m = `<polygon points="${cx},${cy - r} ${cx - 0.866 * r},${cy + 0.5 * r} ${cx + 0.866 * r},${cy + 0.5 * r}" fill="${st.fill}" stroke="${st.border}" stroke-width="${st.bw}"/>`;
    }
    return `<svg width="30" height="12"><line x1="0" y1="${cy}" x2="30" y2="${cy}" stroke="${st.line}" stroke-width="${st.width}"/>${m}</svg>`;
}

function series(values, from, st, order) {
    return {
        data: values.map((v, i) => ({ x: from[0] + (from[1] - 1 + i) / 12, y: v })),
        borderColor: st.line,
        borderWidth: st.width,
        pointStyle: st.marker || false,
        pointRadius: st.marker ? st.r : 0,
        pointBackgroundColor: st.fill,
        pointBorderColor: st.border,
        pointBorderWidth: st.bw || 0,
        tension: 0,
        fill: false,
        order: order
    };
}

// 边框与内向刻度线
const frameTicks = {
    id: 'frameTicks',
    afterDatasetsDraw(chart) {
        const { ctx, chartArea: a, scales: { x, y } } = chart;
        ctx.save();
        ctx.strokeStyle = '#333';
        ctx.lineWidth = 1;
        ctx.beginPath();
        const m0 = Math.ceil(x.min * 12 - 1e-6), m1 = Math.floor(x.max * 12 + 1e-6);
        for (let m = m0; m <= m1; m++) {
            const px = Math.round(x.getPixelForValue(m / 12)) + 0.5;
            const len = m % 12 === 0 ? 5 : 2.5;
            ctx.moveTo(px, a.bottom); ctx.lineTo(px, a.bottom - len);
            ctx.moveTo(px, a.top); ctx.lineTo(px, a.top + len);
        }
        yTicks.forEach(v => {
            const py = Math.round(y.getPixelForValue(v)) + 0.5;
            ctx.moveTo(a.left, py); ctx.lineTo(a.left + 5, py);
            ctx.moveTo(a.right, py); ctx.lineTo(a.right - 5, py);
        });
        ctx.stroke();
        ctx.lineWidth = 1.5;
        ctx.strokeRect(a.left, a.top, a.right - a.left, a.bottom - a.top);
        ctx.restore();
    }
};

const page = document.getElementById('page');

panels.forEach((p, idx) => {
    const c = idx % 3, r = Math.floor(idx / 3);
    const L = colLeft[c], W = colWidth[c], T = rowTop[r];

    // legend box
    const lg = document.createElement('div');
    lg.className = 'legend';
    lg.style.left = L + 'px';
    lg.style.top = (T - 41) + 'px';
    lg.style.width = W + 'px';
    lg.style.height = '37px';
    legendItems.forEach(it => {
        const el = document.createElement('div');
        el.className = 'item';
        el.style.left = it.left + 'px';
        el.style.top = it.top + 'px';
        el.innerHTML = sampleSvg(styleFor(it.key, p.best)) + '<span>' + it.text + '</span>';
        lg.appendChild(el);
    });
    page.appendChild(lg);

    // chart
    const canvas = document.createElement('canvas');
    const cw = W + 36 + 4, ch = plotHeight + 3 + 40;
    canvas.width = cw; canvas.height = ch;
    canvas.style.left = (L - 36) + 'px';
    canvas.style.top = (T - 3) + 'px';
    canvas.style.width = cw + 'px';
    canvas.style.height = ch + 'px';
    page.appendChild(canvas);

    const datasets = [];
    ['gompertz', 'lognormal', 'weibull', 'frechet'].forEach(k => {
        const st = styleFor(k, p.best);
        datasets.push(series(p[k], p.from, st, k === p.best ? 0 : fitOrder[k]));
    });
    datasets.push(series(p.trends, p.trendFrom, trendStyle, 5));

    new Chart(canvas.getContext('2d'), {
        type: 'line',
        data: { datasets },
        options: {
            responsive: false,
            animation: false,
            devicePixelRatio: 1,
            events: [],
            layout: { padding: { top: 3, right: 4, left: 0, bottom: 0 } },
            plugins: { legend: { display: false }, tooltip: { enabled: false } },
            scales: {
                x: {
                    type: 'linear',
                    bounds: 'data',
                    min: p.xRange[0],
                    max: p.xRange[1],
                    afterBuildTicks: s => { s.ticks = p.years.map(v => ({ value: v })); },
                    afterFit: s => { s.height = 40; s.paddingLeft = 0; s.paddingRight = 0; },
                    grid: { display: false, drawTicks: false },
                    border: { display: false },
                    ticks: { autoSkip: false, minRotation: 30, maxRotation: 30, padding: 4, color: '#333', font, callback: v => String(v) }
                },
                y: {
                    type: 'linear',
                    bounds: 'data',
                    min: 1,
                    max: 109.5,
                    afterBuildTicks: s => { s.ticks = yTicks.map(v => ({ value: v })); },
                    afterFit: s => { s.width = 36; s.paddingTop = 0; s.paddingBottom = 0; },
                    grid: { display: false, drawTicks: false },
                    border: { display: false },
                    ticks: { padding: 3, color: '#333', font, callback: v => String(v) }
                }
            }
        },
        plugins: [frameTicks]
    });

    // caption
    const cap = document.createElement('div');
    cap.className = 'caption';
    cap.style.left = (L + W / 2 - 15) + 'px';
    cap.style.top = captionTop[r] + 'px';
    cap.innerHTML = '<span>' + p.tag + '</span> <span>' + p.title + '</span>';
    page.appendChild(cap);
});
</script>
</body>
</html>
